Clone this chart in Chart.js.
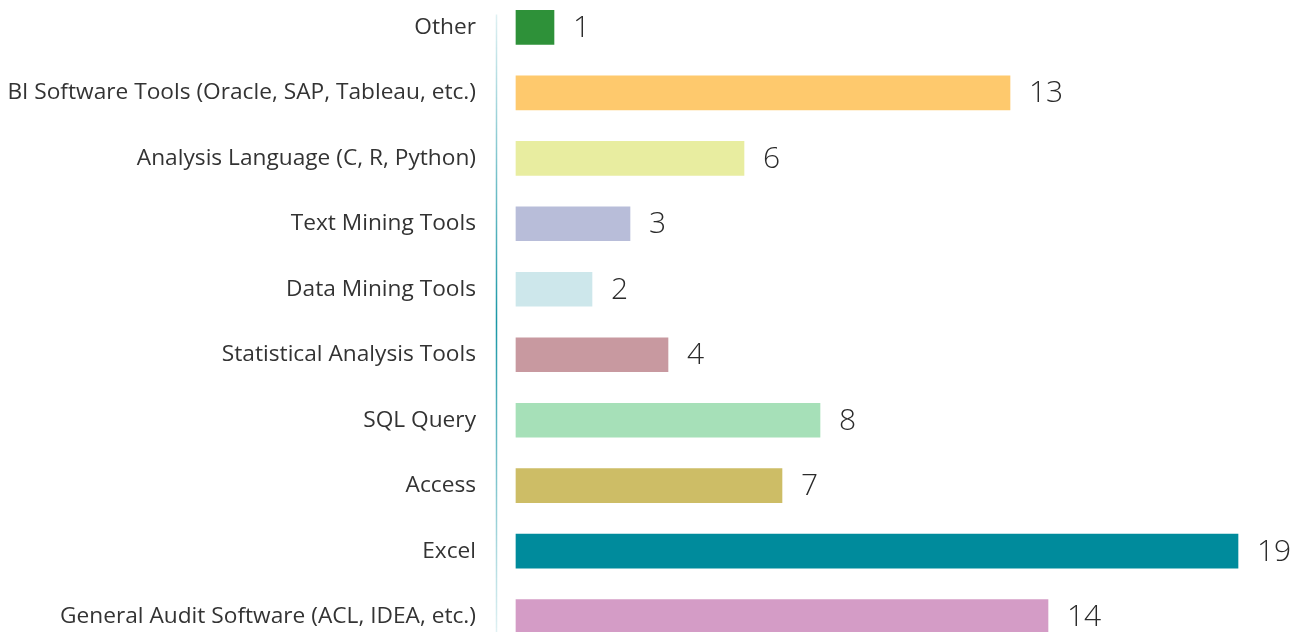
<!DOCTYPE html>
<html>
<head>
<meta charset="utf-8">
<script src="https://cdn.jsdelivr.net/npm/chart.js@4/dist/chart.umd.min.js"></script>
<style>
    html, body { margin: 0; padding: 0; background: #fff; overflow: hidden; }
    /* chart.js leaves ~34px above/below the bands, shift so they line up with the page */
    #wrap { position: absolute; left: 0; top: -39px; width: 1300px; height: 722px; }
</style>
</head>
<body>
<div id="wrap"><canvas id="toolsChart"></canvas></div>
<script>
const categories = [
    'Other',
    'BI Software Tools (Oracle, SAP, Tableau, etc.)',
    'Analysis Language (C, R, Python)',
    'Text Mining Tools',
    'Data Mining Tools',
    'Statistical Analysis Tools',
    'SQL Query',
    'Access',
    'Excel',
    'General Audit Software (ACL, IDEA, etc.)'
];
const counts = [1, 13, 6, 3, 2, 4, 8, 7, 19, 14];
const barColors = [
    '#2e9139', '#fec96d', '#e8eda0', '#b8bdd9', '#cde7eb',
    '#c899a0', '#a6e0b8', '#cdbd66', '#008b9c', '#d49cc6'
];

// numbers to the right of each bar
const valueLabels = {
    id: 'valueLabels',
    afterDatasetsDraw(chart) {
        const ctx = chart.ctx;
        const meta = chart.getDatasetMeta(0);
        ctx.save();
        ctx.font = '300 30px "Open Sans", sans-serif';
        ctx.fillStyle = '#2b2b2b';
        ctx.textBaseline = 'middle';
        ctx.textAlign = 'left';
        meta.data.forEach(function (bar, i) {
            ctx.fillText(String(chart.data.datasets[0].data[i]), bar.x + 19, bar.y + 1);
        });
        ctx.restore();
    }
};

// faded teal axis line
const axisLine = {
    id: 'axisLine',
    beforeDatasetsDraw(chart) {
        const ctx = chart.ctx;
        const area = chart.chartArea;
        const x = Math.round(area.left) + 0.5;
        const grad = ctx.createLinearGradient(0, area.top, 0, area.bottom);
        grad.addColorStop(0, 'rgba(0,139,156,0.08)');
        grad.addColorStop(0.5, 'rgba(0,139,156,0.9)');
        grad.addColorStop(1, 'rgba(0,139,156,0.08)');
        ctx.save();
        ctx.strokeStyle = grad;
        ctx.lineWidth = 1.5;
        ctx.beginPath();
        ctx.moveTo(x, area.top + 20);
        ctx.lineTo(x, area.bottom);
        ctx.stroke();
        ctx.restore();
    }
};

document.addEventListener('DOMContentLoaded', function () {
    const ctx = document.getElementById('toolsChart').getContext('2d');

    new Chart(ctx, {
        type: 'bar',
        data: {
            labels: categories,
            datasets: [{
                data: counts,
                backgroundColor: barColors,
                borderWidth: 0,
                barThickness: 34
            }]
        },
        options: {
            indexAxis: 'y',
            responsive: true,
            maintainAspectRatio: false,
            animation: false,
            layout: { padding: { left: 0, right: 5, top: 0, bottom: 0 } },
            plugins: {
                legend: { display: false },
                tooltip: { enabled: false }
            },
            scales: {
                x: {
                    display: false,
                    min: -0.526,
                    max: 20.5
                },
                y: {
                    afterFit: function (scale) { scale.width = 496; },
                    grid: { display: false, drawTicks: false },
                    border: { display: false },
                    ticks: {
                        padding: 20,
                        color: '#333',
                        font: { family: '"Open Sans", sans-serif', size: 22.7 }
                    }
                }
            }
        },
        plugins: [valueLabels, axisLine]
    });
});
</script>
</body>
</html>
